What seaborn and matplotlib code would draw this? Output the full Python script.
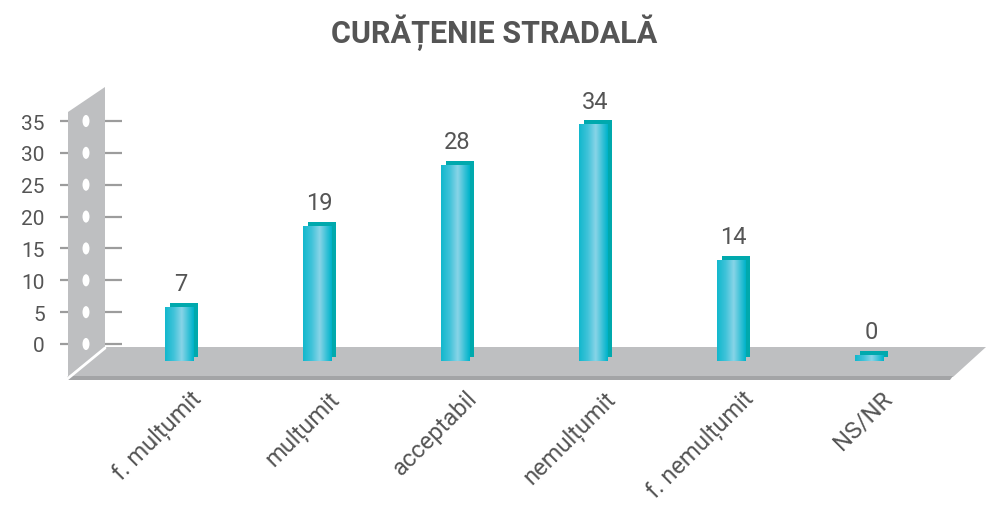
import numpy as np
import matplotlib
matplotlib.use("Agg")
import matplotlib.pyplot as plt
import matplotlib.transforms as mtransforms
from matplotlib.colors import LinearSegmentedColormap
from matplotlib.patches import Polygon, Ellipse
import seaborn as sns

# data
categories = ["f. mulțumit", "mulțumit", "acceptabil", "nemulțumit", "f. nemulțumit", "NS/NR"]
values = [7, 19, 28, 34, 14, 0]
y_ticks = [0, 5, 10, 15, 20, 25, 30, 35]
title = "CURĂȚENIE STRADALĂ"

W, H = 986, 510
TEXT = "#555555"
GREY = "#bebfc1"
GREY_DARK = "#a3a4a6"
TICK_GREY = "#9c9c9c"
BACK_TEAL = "#00a9ad"
BASE = -0.95  # bars sink a little into the floor

sns.set_theme(style="white")
plt.rcParams["font.family"] = ["Roboto", "DejaVu Sans"]

fig = plt.figure(figsize=(W / 100, H / 100), dpi=100)


def px_axes(left, top, right, bottom):
    return fig.add_axes([left / W, 1 - bottom / H, (right - left) / W, (bottom - top) / H])


# background: wall and floor (pixel coordinates)
bg = fig.add_axes([0, 0, 1, 1], zorder=0)
bg.set_xlim(0, W)
bg.set_ylim(H, 0)
bg.axis("off")
bg.add_patch(Polygon([(68, 113), (105, 88), (105, 348), (68, 378)], closed=True, fc=GREY, ec="none"))
bg.add_patch(Polygon([(105, 348), (986, 348), (953, 378), (68, 378)], closed=True, fc=GREY, ec="none"))
bg.add_patch(Polygon([(68, 377), (953, 377), (950, 381), (66, 381)], closed=True, fc=GREY_DARK, ec="none"))
bg.plot([105, 66], [349, 381], color="white", lw=2)

# back wall ticks
axw = px_axes(60, 122, 122, 345)
axw.set_zorder(1)
axw.patch.set_alpha(0)
axw.set_xlim(60, 122)
axw.set_ylim(0, 35)
for s in axw.spines.values():
    s.set_visible(False)
axw.hlines(y_ticks, 60, 68, color=TICK_GREY, lw=1.6, clip_on=False)
axw.hlines(y_ticks, 105, 122, color=TICK_GREY, lw=1.6, clip_on=False)
for t in y_ticks:
    axw.add_patch(Ellipse((86, t), 7, 1.9, fc="white", ec="none", clip_on=False))
axw.set_xticks([])
axw.set_yticks(y_ticks)
axw.set_yticklabels([str(t) for t in y_ticks], color=TEXT, fontsize=15)
axw.tick_params(axis="y", length=0, pad=11)

# bars: axes geometry (front face), zero at y=355.5 px, 6.77 px per unit
SCALE = 6.77
ZERO = 355.5
YMAX = 40
x_left, x_right = 110, 110 + 6 * 138


def bar_axes(dx, dy, z):
    a = px_axes(x_left + dx, ZERO - YMAX * SCALE - dy, x_right + dx, ZERO - BASE * SCALE - dy)
    a.set_zorder(z)
    a.patch.set_alpha(0)
    return a


ax_back = bar_axes(5, 4, 2)
ax = bar_axes(0, 0, 3)

for a, col in [(ax_back, BACK_TEAL), (ax, "#2ec0d4")]:
    sns.barplot(x=categories, y=values, ax=a, color=col, width=0.203, saturation=1)
    a.set_xlim(-0.5, 5.5)
    a.set_ylim(BASE, YMAX)
    for p in a.patches:
        top = p.get_y() + p.get_height()
        p.set_y(BASE)
        p.set_height(top - BASE)
        p.set_linewidth(0)
    for s in a.spines.values():
        s.set_visible(False)
    a.set_yticks([])
    a.set_xlabel("")
    a.set_ylabel("")

ax_back.set_xticks([])

# gradient on the front faces
grad = LinearSegmentedColormap.from_list(
    "cyl", [(0, "#12b8cd"), (0.3, "#40c3d9"), (0.58, "#88d4e7"), (0.85, "#2fbfd5"), (1, "#00b3ca")])
g = np.linspace(0, 1, 64).reshape(1, -1)
for p in ax.patches:
    x0, w = p.get_x(), p.get_width()
    im = ax.imshow(g, cmap=grad, aspect="auto", extent=[x0, x0 + w, BASE, p.get_y() + p.get_height()],
                   zorder=p.get_zorder() + 0.1)
    im.set_clip_path(p)
    ax.annotate(f"{values[int(round(x0 + w / 2))]}", xy=(x0 + w / 2, p.get_y() + p.get_height()),
                xytext=(1.5, 12), textcoords="offset points", ha="center", va="baseline",
                fontsize=17, color=TEXT)
ax.set_xlim(-0.5, 5.5)
ax.set_ylim(BASE, YMAX)

ax.set_xticks(range(len(categories)))
ax.set_xticklabels(categories, rotation=45, ha="right", va="center", rotation_mode="anchor",
                   color=TEXT, fontsize=17)
ax.tick_params(axis="x", length=0, pad=24)
offset = mtransforms.ScaledTranslation(19 / 100, 0, fig.dpi_scale_trans)
for lab in ax.get_xticklabels():
    lab.set_transform(lab.get_transform() + offset)

fig.text(494 / W, 1 - 43 / H, title, ha="center", va="baseline", fontsize=22,
         fontweight="bold", color=TEXT)

fig.savefig("out.png", dpi=100)
